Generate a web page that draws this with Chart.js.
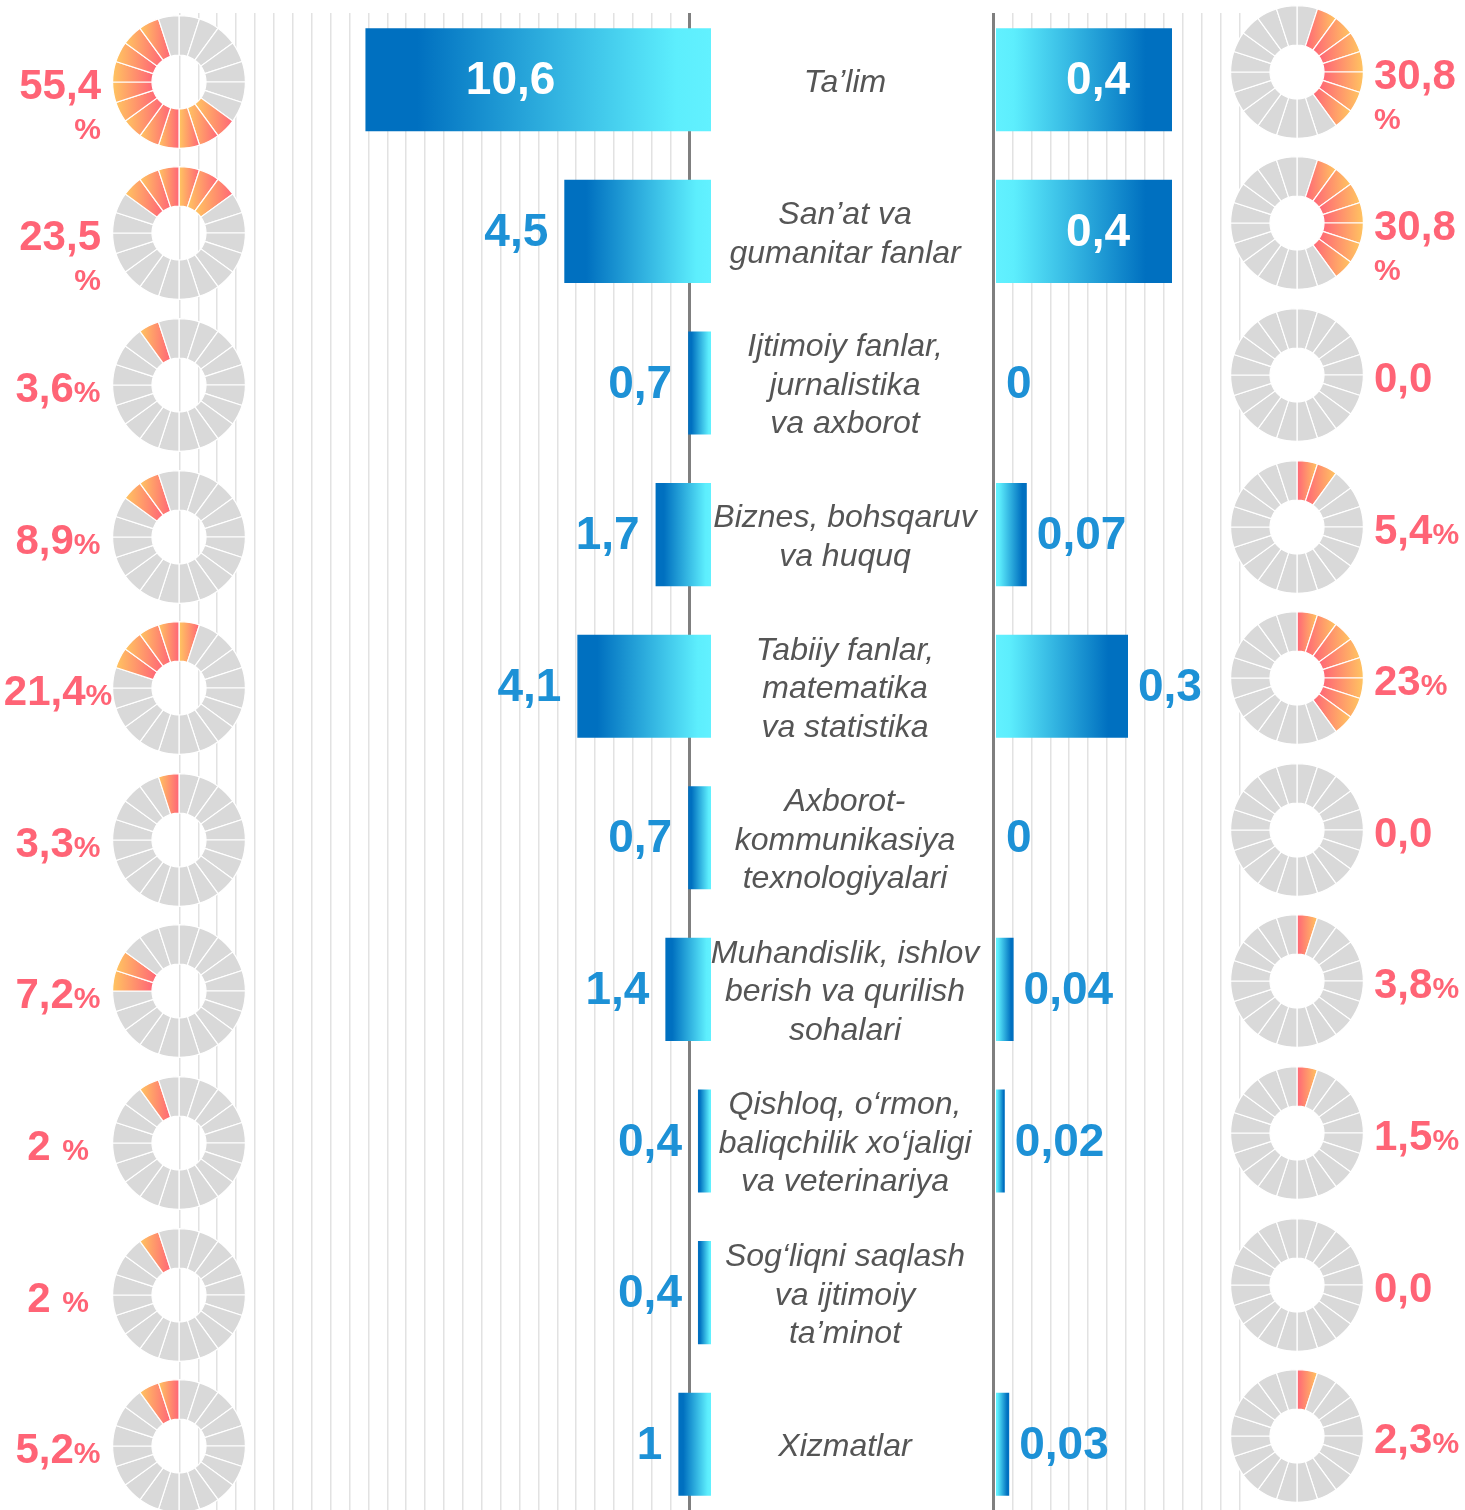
<!DOCTYPE html>
<html lang="uz">
<head>
    <meta charset="UTF-8">
    <title>Ta'lim yo'nalishlari</title>
    <script src="https://cdn.jsdelivr.net/npm/chart.js"></script>
    <style>
        html, body {
            margin: 0;
            padding: 0;
            background: #fff;
        }
        body {
            position: relative;
            width: 1465px;
            height: 1510px;
            overflow: hidden;
            font-family: 'Liberation Sans', Arial, sans-serif;
        }
        canvas { position: absolute; }
        .grid { z-index: 1; }
        .donut { z-index: 2; }
        .bars { z-index: 3; }
    </style>
</head>
<body>
    <canvas id="gridLeft" class="grid" width="529" height="1497" style="left:170px;top:13px"></canvas>
    <canvas id="gridRight" class="grid" width="265" height="1497" style="left:984px;top:13px"></canvas>
    <canvas id="barsLeft" class="bars" width="652" height="1516" style="left:59px;top:4px"></canvas>
    <canvas id="barsRight" class="bars" width="742" height="1516" style="left:694px;top:4px"></canvas>

    <script>
        // categories (one row each, top to bottom)
        const categories = [
            ['Ta’lim'],
            ['San’at va', 'gumanitar fanlar'],
            ['Ijtimoiy fanlar,', 'jurnalistika', 'va axborot'],
            ['Biznes, bohsqaruv', 'va huquq'],
            ['Tabiiy fanlar,', 'matematika', 'va statistika'],
            ['Axborot-', 'kommunikasiya', 'texnologiyalari'],
            ['Muhandislik, ishlov', 'berish va qurilish', 'sohalari'],
            ['Qishloq, o‘rmon,', 'baliqchilik xo‘jaligi', 'va veterinariya'],
            ['Sog‘liqni saqlash', 'va ijtimoiy', 'ta’minot'],
            ['Xizmatlar']
        ];

        // bar values
        const leftValues = [10.6, 4.5, 0.7, 1.7, 4.1, 0.7, 1.4, 0.4, 0.4, 1];
        const rightValues = [0.4, 0.4, 0, 0.07, 0.3, 0, 0.04, 0.02, null, 0.03];

        // share labels next to the rings
        const leftShareLabels = [['55,4', '%'], ['23,5', '%'], ['3,6%'], ['8,9%'], ['21,4%'],
            ['3,3%'], ['7,2%'], ['2 %'], ['2 %'], ['5,2%']];
        const rightShareLabels = [['30,8', '%'], ['30,8', '%'], ['0,0'], ['5,4%'], ['23%'],
            ['0,0'], ['3,8%'], ['1,5%'], ['0,0'], ['2,3%']];

        // ring pictograms: 20 pieces, how many are coloured and where the coloured run ends / starts
        const SEGMENTS = 20;
        const leftFilled = [12, 6, 1, 2, 5, 1, 2, 1, 1, 2];
        const leftFilledEnd = [-1, 3, -1, -1, 1, 0, -3, -1, -1, 0];
        const rightFilled = [7, 7, 0, 2, 8, 0, 1, 1, 0, 1];
        const rightFilledStart = [1, 1, 0, 0, 0, 0, 0, 0, 0, 0];

        const FONT = "'Liberation Sans', Arial, sans-serif";
        const BLUE_TEXT = '#1D91D6';
        const PINK_TEXT = '#FF6476';
        const INNER = 27;

        Chart.defaults.font.family = FONT;

        function fmt(v) {
            return String(v).replace('.', ',');
        }

        // vertical background grid
        function makeGrid(id, lastLine, axisValue) {
            return new Chart(document.getElementById(id), {
                type: 'scatter',
                data: { datasets: [] },
                options: {
                    responsive: false,
                    animation: false,
                    events: [],
                    layout: { padding: 0 },
                    plugins: { legend: { display: false }, tooltip: { enabled: false } },
                    scales: {
                        x: {
                            type: 'linear',
                            min: -0.5,
                            max: lastLine + 0.5,
                            afterBuildTicks: axis => {
                                const ticks = [];
                                for (let v = 0; v <= lastLine; v++) ticks.push({ value: v });
                                axis.ticks = ticks;
                            },
                            ticks: { display: false },
                            border: { display: false },
                            grid: {
                                drawTicks: false,
                                color: c => (c.tick && c.tick.value === axisValue) ? '#7F7F7F' : '#E2E2E2',
                                lineWidth: c => (c.tick && c.tick.value === axisValue) ? 3 : 1.5
                            }
                        },
                        y: { display: false }
                    }
                }
            });
        }

        makeGrid('gridLeft', 27, 27);
        makeGrid('gridRight', 13, 0);

        // blue gradient, dark at the outer end of each bar
        function barFill(ctx) {
            const chart = ctx.chart;
            if (!chart.chartArea || ctx.type !== 'data' || ctx.raw == null) return '#0070C0';
            const x = chart.scales.x;
            const end = x.getPixelForValue(ctx.raw);
            const base = x.getPixelForValue(0);
            if (Math.abs(end - base) < 1) return '#0070C0';
            const g = chart.ctx.createLinearGradient(end, 0, base, 0);
            g.addColorStop(0, '#0070C0');
            g.addColorStop(0.15, '#0070C0');
            g.addColorStop(0.9, '#5DEEFD');
            g.addColorStop(1, '#62F1FF');
            return g;
        }

        const valueLabels = {
            id: 'valueLabels',
            afterDatasetsDraw(chart, args, opts) {
                const ctx = chart.ctx;
                const meta = chart.getDatasetMeta(0);
                const data = chart.data.datasets[0].data;
                const dir = opts.side === 'left' ? -1 : 1;
                ctx.save();
                ctx.font = 'bold 46px ' + FONT;
                ctx.textBaseline = 'middle';
                meta.data.forEach((bar, i) => {
                    const v = data[i];
                    if (v == null) return;
                    const len = Math.abs(bar.base - bar.x);
                    const y = bar.y + 2;
                    if (len > 170) {
                        ctx.fillStyle = '#fff';
                        ctx.textAlign = 'center';
                        ctx.fillText(fmt(v), bar.x - dir * 0.42 * len, y);
                    } else {
                        ctx.fillStyle = BLUE_TEXT;
                        ctx.textAlign = dir < 0 ? 'right' : 'left';
                        ctx.fillText(fmt(v), bar.x + dir * (dir < 0 ? 16 : 10), y);
                    }
                });
                ctx.restore();
            }
        };

        const categoryLabels = {
            id: 'categoryLabels',
            afterDraw(chart, args, opts) {
                if (!opts.gap) return;
                const ctx = chart.ctx;
                const yScale = chart.scales.y;
                const x = chart.chartArea.left - opts.gap;
                const lh = 38.5;
                ctx.save();
                ctx.font = 'italic 32px ' + FONT;
                ctx.fillStyle = '#555555';
                ctx.textAlign = 'center';
                ctx.textBaseline = 'middle';
                categories.forEach((lines, i) => {
                    const cy = yScale.getPixelForValue(i) + 3;
                    lines.forEach((line, j) => {
                        ctx.fillText(line, x, cy + (j - (lines.length - 1) / 2) * lh);
                    });
                });
                ctx.restore();
            }
        };

        function makeBars(id, values, side, max, padLeft, gap) {
            return new Chart(document.getElementById(id), {
                type: 'bar',
                data: {
                    labels: categories.map(c => c.join(' ')),
                    datasets: [{
                        data: values,
                        backgroundColor: barFill,
                        borderWidth: 0,
                        barPercentage: 0.68,
                        categoryPercentage: 1
                    }]
                },
                options: {
                    indexAxis: 'y',
                    responsive: false,
                    animation: false,
                    events: [],
                    layout: { padding: { left: padLeft, right: 0, top: 0, bottom: 0 } },
                    scales: {
                        x: { display: false, min: 0, max: max, reverse: side === 'left' },
                        y: { display: false }
                    },
                    plugins: {
                        legend: { display: false },
                        tooltip: { enabled: false },
                        valueLabels: { side: side },
                        categoryLabels: { gap: gap }
                    }
                },
                plugins: [valueLabels, categoryLabels]
            });
        }

        const barsLeft = makeBars('barsLeft', leftValues, 'left', 20, 0, 0);
        makeBars('barsRight', rightValues, 'right', 1, 302, 151);

        // ring pictograms
        function isFilled(side, row, k) {
            if (side === 'left') {
                for (let j = 1; j <= leftFilled[row]; j++) {
                    if ((((leftFilledEnd[row] - j) % SEGMENTS) + SEGMENTS) % SEGMENTS === k) return true;
                }
                return false;
            }
            for (let j = 0; j < rightFilled[row]; j++) {
                if ((rightFilledStart[row] + j) % SEGMENTS === k) return true;
            }
            return false;
        }

        function segmentFill(side, row) {
            return ctx => {
                const k = ctx.dataIndex;
                if (!isFilled(side, row, k)) return '#D9D9D9';
                const ca = ctx.chart.chartArea;
                if (!ca) return '#FF9A6A';
                const cx = (ca.left + ca.right) / 2;
                const R = Math.min(ca.width, ca.height) / 2;
                const a0 = k * 2 * Math.PI / SEGMENTS;
                const a1 = (k + 1) * 2 * Math.PI / SEGMENTS;
                const xs = [R * Math.sin(a0), R * Math.sin(a1), INNER * Math.sin(a0), INNER * Math.sin(a1)].map(d => cx + d);
                const g = ctx.chart.ctx.createLinearGradient(Math.min(...xs), 0, Math.max(...xs), 0);
                const yellow = '#FFC660', pink = '#FF6577';
                g.addColorStop(0, side === 'left' ? yellow : pink);
                g.addColorStop(1, side === 'left' ? pink : yellow);
                return g;
            };
        }

        const shareLabel = {
            id: 'shareLabel',
            afterDraw(chart, args, opts) {
                const ctx = chart.ctx;
                const ca = chart.chartArea;
                const cy = (ca.top + ca.bottom) / 2;
                const big = 'bold 42px ' + FONT;
                const small = 'bold 30px ' + FONT;
                const lines = opts.text;
                ctx.save();
                ctx.fillStyle = PINK_TEXT;
                ctx.textBaseline = 'alphabetic';
                if (lines.length === 2) {
                    const x = opts.side === 'left' ? ca.left - 11 : ca.right + 10;
                    ctx.textAlign = opts.side === 'left' ? 'right' : 'left';
                    ctx.font = big;
                    ctx.fillText(lines[0], x, cy + 17);
                    ctx.font = small;
                    ctx.fillText(lines[1], x, cy + 57);
                } else {
                    const s = lines[0];
                    const p = s.indexOf('%');
                    const num = p >= 0 ? s.slice(0, p) : s;
                    const pct = p >= 0 ? '%' : '';
                    ctx.font = big;
                    const w1 = ctx.measureText(num).width;
                    ctx.font = small;
                    const w2 = pct ? ctx.measureText(pct).width : 0;
                    const x0 = opts.side === 'left' ? ca.left - 54 - (w1 + w2) / 2 : ca.right + 10;
                    ctx.textAlign = 'left';
                    ctx.font = big;
                    ctx.fillText(num, x0, cy + 17);
                    if (pct) {
                        ctx.font = small;
                        ctx.fillText(pct, x0 + w1, cy + 17);
                    }
                }
                ctx.restore();
            }
        };

        function makeDonut(side, row, centerY) {
            const canvas = document.createElement('canvas');
            canvas.className = 'donut';
            const left = side === 'left' ? 0 : 1228;
            const width = side === 'left' ? 250 : 237;
            canvas.width = width;
            canvas.height = 140;
            canvas.style.left = left + 'px';
            canvas.style.top = Math.round(centerY - 70) + 'px';
            document.body.appendChild(canvas);

            const pieces = [];
            for (let k = 0; k < SEGMENTS; k++) pieces.push(1);

            new Chart(canvas, {
                type: 'doughnut',
                data: {
                    labels: pieces.map((p, k) => String(k + 1)),
                    datasets: [{
                        data: pieces,
                        backgroundColor: segmentFill(side, row),
                        borderColor: '#ffffff',
                        borderWidth: 1.2,
                        borderJoinStyle: 'miter'
                    }]
                },
                options: {
                    responsive: false,
                    animation: false,
                    events: [],
                    cutout: INNER,
                    layout: {
                        padding: side === 'left'
                            ? { left: 112, right: 4, top: 3, bottom: 3 }
                            : { left: 2, right: 101, top: 3, bottom: 3 }
                    },
                    plugins: {
                        legend: { display: false },
                        tooltip: { enabled: false },
                        shareLabel: {
                            side: side,
                            text: side === 'left' ? leftShareLabels[row] : rightShareLabels[row]
                        }
                    }
                },
                plugins: [shareLabel]
            });
        }

        const yScale = barsLeft.scales.y;
        categories.forEach((c, i) => {
            const cy = 4 + yScale.getPixelForValue(i);
            makeDonut('left', i, cy + 2);
            makeDonut('right', i, cy - 8);
        });
    </script>
</body>
</html>
